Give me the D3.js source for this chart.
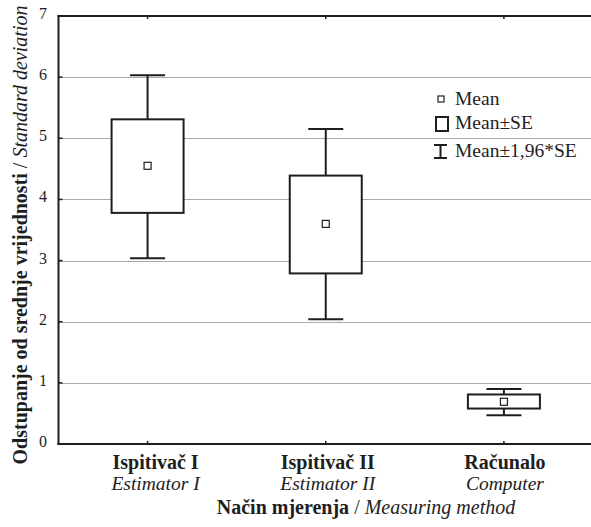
<!DOCTYPE html>
<html>
<head>
<meta charset="utf-8">
<script src="https://cdn.jsdelivr.net/npm/d3@7"></script>
<style>
  html, body { margin: 0; padding: 0; background: #fff; }
  svg { display: block; font-family: "Liberation Serif", "Times New Roman", serif; }
</style>
</head>
<body>
<svg id="chart" width="591" height="527"></svg>
<script>
// ---- data ----
const categories = ["Ispitivač I", "Ispitivač II", "Računalo"];
const categoriesEn = ["Estimator I", "Estimator II", "Computer"];
const means = [4.55, 3.60, 0.69];
const seLow = [3.78, 2.79, 0.58];
const seHigh = [5.31, 4.39, 0.81];
const ciLow = [3.04, 2.04, 0.47];
const ciHigh = [6.03, 5.15, 0.90];
const yTicks = [0, 1, 2, 3, 4, 5, 6, 7];
const legendLabels = ["Mean", "Mean±SE", "Mean±1,96*SE"];

(function () {
const data = categories.map((c, i) => ({
  cat: c, en: categoriesEn[i], mean: means[i],
  lo: seLow[i], hi: seHigh[i], wlo: ciLow[i], whi: ciHigh[i]
}));

const svg = d3.select("#chart");
const pl = 58.5, pt = 16, pb = 444, pr = 593;
const ink = "#1e1e1e";

const x = d3.scaleBand().domain(categories).range([pl, pr]).padding(0);
const cx = c => x(c) + x.bandwidth() / 2;
const y = d3.scaleLinear().domain([0, 7]).range([pb, pt]);
const labelShift = [8, 2, 1];

// gridlines
svg.append("g").selectAll("line")
  .data(yTicks.filter(t => t > 0 && t < 7))
  .join("line")
  .attr("x1", pl).attr("x2", 591)
  .attr("y1", d => Math.round(y(d)) + 0.5).attr("y2", d => Math.round(y(d)) + 0.5)
  .attr("stroke", "#555").attr("stroke-width", 1)
  .attr("stroke-dasharray", "1,1");

// frame
svg.append("line").attr("x1", pl).attr("x2", pl).attr("y1", pt - 1).attr("y2", pb + 1)
  .attr("stroke", ink).attr("stroke-width", 2);
svg.append("line").attr("x1", pl - 1).attr("x2", 591).attr("y1", pt).attr("y2", pt)
  .attr("stroke", ink).attr("stroke-width", 2);
svg.append("line").attr("x1", pl - 1).attr("x2", 591).attr("y1", pb).attr("y2", pb)
  .attr("stroke", ink).attr("stroke-width", 2);

// y ticks (inward) and labels
svg.append("g").selectAll("line").data(yTicks).join("line")
  .attr("x1", pl).attr("x2", pl + 4)
  .attr("y1", d => y(d)).attr("y2", d => y(d))
  .attr("stroke", ink).attr("stroke-width", 1.5);
svg.append("g").selectAll("text").data(yTicks).join("text")
  .attr("x", 47).attr("y", d => y(d) + 3)
  .attr("text-anchor", "end")
  .attr("font-size", 16).attr("fill", ink)
  .text(d => d);

// x ticks top & bottom
categories.forEach(c => {
  svg.append("line").attr("x1", cx(c)).attr("x2", cx(c)).attr("y1", pt).attr("y2", pt + 3)
    .attr("stroke", ink).attr("stroke-width", 1.5);
  svg.append("line").attr("x1", cx(c)).attr("x2", cx(c)).attr("y1", pb).attr("y2", pb - 3)
    .attr("stroke", ink).attr("stroke-width", 1.5);
});

// boxes
const boxHalf = 36, capHalf = 17.5, meanHalf = 3.5;
const g = svg.append("g").selectAll("g").data(data).join("g");
g.append("line")
  .attr("x1", d => cx(d.cat)).attr("x2", d => cx(d.cat))
  .attr("y1", d => y(d.whi)).attr("y2", d => y(d.wlo))
  .attr("stroke", ink).attr("stroke-width", 2);
g.append("line")
  .attr("x1", d => cx(d.cat) - capHalf).attr("x2", d => cx(d.cat) + capHalf)
  .attr("y1", d => y(d.whi)).attr("y2", d => y(d.whi))
  .attr("stroke", ink).attr("stroke-width", 2);
g.append("line")
  .attr("x1", d => cx(d.cat) - capHalf).attr("x2", d => cx(d.cat) + capHalf)
  .attr("y1", d => y(d.wlo)).attr("y2", d => y(d.wlo))
  .attr("stroke", ink).attr("stroke-width", 2);
g.append("rect")
  .attr("x", d => cx(d.cat) - boxHalf).attr("width", boxHalf * 2)
  .attr("y", d => y(d.hi)).attr("height", d => y(d.lo) - y(d.hi))
  .attr("fill", "#fff").attr("stroke", ink).attr("stroke-width", 2);
g.append("rect")
  .attr("x", d => cx(d.cat) - meanHalf).attr("width", meanHalf * 2)
  .attr("y", d => y(d.mean) - meanHalf).attr("height", meanHalf * 2)
  .attr("fill", "#fff").attr("stroke", ink).attr("stroke-width", 1.2);

// legend
const lg = svg.append("g");
lg.append("rect").attr("x", 438).attr("y", 96).attr("width", 6).attr("height", 6)
  .attr("fill", "#fff").attr("stroke", ink).attr("stroke-width", 1.2);
lg.append("rect").attr("x", 436).attr("y", 117).attr("width", 12).attr("height", 14)
  .attr("fill", "#fff").attr("stroke", ink).attr("stroke-width", 2);
lg.append("line").attr("x1", 440.5).attr("x2", 440.5).attr("y1", 145).attr("y2", 158)
  .attr("stroke", ink).attr("stroke-width", 2);
lg.append("line").attr("x1", 434).attr("x2", 447).attr("y1", 145).attr("y2", 145)
  .attr("stroke", ink).attr("stroke-width", 2);
lg.append("line").attr("x1", 434).attr("x2", 447).attr("y1", 158).attr("y2", 158)
  .attr("stroke", ink).attr("stroke-width", 2);
const legY = [105, 129, 157];
lg.selectAll("text").data(legendLabels).join("text")
  .attr("x", 455).attr("y", (d, i) => legY[i])
  .attr("font-size", 19.5).attr("fill", ink)
  .text(d => d);

// category labels
svg.append("g").selectAll("text").data(data).join("text")
  .attr("x", (d, i) => cx(d.cat) + labelShift[i]).attr("y", 469)
  .attr("text-anchor", "middle").attr("font-size", 20).attr("font-weight", "bold").attr("fill", ink)
  .text(d => d.cat);
svg.append("g").selectAll("text").data(data).join("text")
  .attr("x", (d, i) => cx(d.cat) + labelShift[i]).attr("y", 490)
  .attr("text-anchor", "middle").attr("font-size", 19.5).attr("font-style", "italic").attr("fill", ink)
  .text(d => d.en);

// x title
const xt = svg.append("text").attr("x", 366).attr("y", 514)
  .attr("text-anchor", "middle").attr("font-size", 20).attr("fill", ink);
xt.append("tspan").attr("font-weight", "bold").text("Način mjerenja");
xt.append("tspan").text(" / ");
xt.append("tspan").attr("font-style", "italic").text("Measuring method");

// y title
const yt = svg.append("text").attr("transform", "translate(27,235) rotate(-90)")
  .attr("text-anchor", "middle").attr("font-size", 20).attr("fill", ink);
yt.append("tspan").attr("font-weight", "bold").text("Odstupanje od srednje vrijednosti");
yt.append("tspan").text(" / ");
yt.append("tspan").attr("font-style", "italic").text("Standard deviation");
})();
</script>
</body>
</html>
